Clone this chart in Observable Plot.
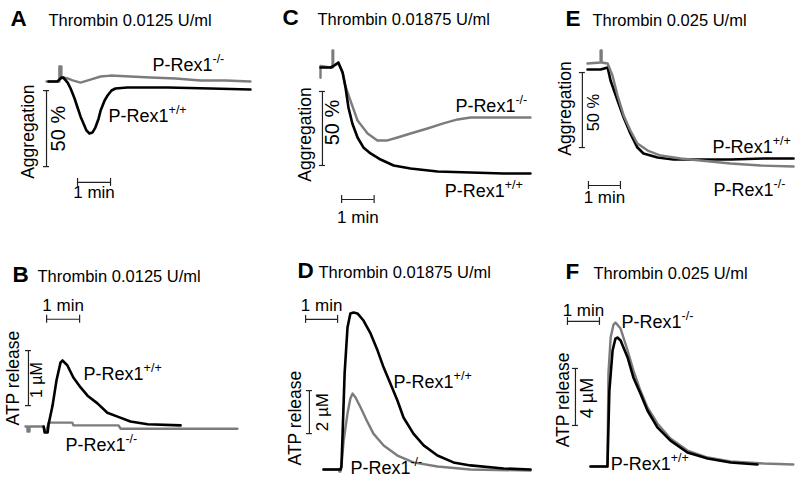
<!DOCTYPE html>
<html><head><meta charset="utf-8">
<script src="https://cdn.jsdelivr.net/npm/d3@7"></script>
<script src="https://cdn.jsdelivr.net/npm/@observablehq/plot@0.6"></script>
<style>
body{margin:0;background:#fff}
#fig{position:relative;width:800px;height:486px;overflow:hidden;background:#fff}
#fig svg{position:absolute}
</style></head><body><div id="fig"></div>
<script>
// ---- data: [time (min), value] ; aggregation in % (downward), ATP in µM ----
const genotypes = ["+/+", "-/-"];
const A_wt = [[0,0],[0.27,0],[0.39,-2.6],[0.45,-2.6],[0.58,0.7],[0.67,4.6],[0.79,11.2],[0.88,17.1],[0.97,23],[1.06,27.6],[1.15,32.2],[1.24,34.2],[1.33,33.6],[1.42,30.3],[1.52,24.3],[1.58,19.1],[1.70,12.5],[1.79,9.2],[1.91,5.9],[2.03,4.6],[2.39,3.9],[3.61,3.9],[4.91,4.6],[6.12,5.3]];
const A_ko = [[-0.06,0],[0.27,0],[0.33,0],[0.33,-9.9],[0.39,-9.9],[0.39,-2],[0.45,-2.6],[0.58,-2],[0.73,-0.7],[0.97,0.7],[1.27,-1.3],[1.58,-3.3],[1.88,-3.9],[2.48,-3.3],[3.09,-2.6],[3.85,-2],[4.61,-0.7],[5.36,-0.7],[6.12,0]];
const C_wt = [[0,0],[0.31,0],[0.40,-1],[0.55,-3.4],[0.68,3.4],[0.77,13.5],[0.86,27],[0.98,37.8],[1.14,47.3],[1.32,54],[1.54,58.1],[1.85,62.2],[2.25,66.2],[2.77,68.2],[3.6,70.3],[4.62,70.9],[5.63,71.6],[6.46,71.6]];
const C_ko = [[0,7],[0,-1],[0.31,0],[0.37,0],[0.37,-11.5],[0.39,-11.5],[0.39,-1],[0.55,-2.7],[0.68,3.4],[0.77,12.8],[0.92,22.3],[1.14,35.8],[1.45,44.6],[1.75,49.3],[2.06,49.3],[2.37,47.3],[2.77,44.6],[3.29,41.2],[3.78,37.8],[4.22,35.1],[4.62,33.8],[5.14,33.8],[6.46,33.8]];
const E_wt = [[0,0.7],[0.41,0.7],[0.63,-0.7],[0.72,8],[0.94,21.3],[1.13,32.7],[1.34,43.3],[1.56,52.7],[1.75,56.7],[2.19,59.3],[2.69,60.7],[3.44,60.7],[4.47,60.7],[5.5,60],[6.44,60]];
const E_ko = [[0,-3.3],[0.41,-4],[0.41,-12],[0.44,-12],[0.44,-4],[0.63,-3.3],[0.78,4.7],[0.94,18],[1.13,31.3],[1.34,41.3],[1.56,50],[1.88,54.7],[2.28,58],[2.91,60],[3.53,61.3],[4.47,63.3],[5.41,64.7],[6.44,65.3]];
const B_wt = [[0.55,0],[0.58,-0.11],[0.67,-0.11],[0.70,0.04],[0.82,0.38],[0.94,0.84],[1.06,1.16],[1.12,1.2],[1.27,1.11],[1.45,0.89],[1.67,0.71],[1.88,0.56],[2.18,0.42],[2.48,0.25],[2.79,0.18],[3.18,0.09],[3.70,0.04],[4.70,0.02]];
const B_ko = [[0,0],[0.06,0],[0.06,-0.09],[0.12,-0.09],[0.12,0],[0.55,0],[0.58,-0.07],[0.64,-0.07],[0.70,0.07],[1.42,0.07],[1.45,0.02],[2.82,0.02],[2.88,-0.04],[6.42,-0.04]];
const D_wt = [[0,0],[0.53,0],[0.56,0.14],[0.59,1.35],[0.66,4.47],[0.75,6.6],[0.84,7.26],[0.94,7.3],[1.06,7.26],[1.25,6.93],[1.47,6.33],[1.69,5.53],[1.88,4.74],[2.09,4.0],[2.31,3.21],[2.5,2.42],[2.81,1.67],[3.13,1.12],[3.56,0.65],[4.06,0.33],[4.59,0.19],[5.63,0.05],[6.47,0]];
const D_ko = [[0,0],[0.47,0],[0.50,-0.1],[0.53,-0.1],[0.56,0.14],[0.63,1.35],[0.75,2.6],[0.84,3.3],[0.91,3.53],[1.0,3.35],[1.16,2.88],[1.38,2.19],[1.56,1.67],[1.88,1.12],[2.31,0.65],[2.81,0.33],[3.56,0.14],[4.59,0],[6.47,-0.05]];
const F_wt = [[0,0],[0.53,0],[0.59,5.33],[0.69,8.14],[0.78,8.98],[0.84,9.05],[0.94,8.84],[1.16,7.65],[1.34,6.25],[1.56,5.12],[1.78,3.93],[2.09,2.74],[2.5,1.82],[3.03,0.98],[3.66,0.56],[4.38,0.28],[5.22,0.14]];
const F_ko = [[0,0],[0.53,0],[0.56,6.53],[0.63,9.05],[0.72,9.96],[0.78,10.1],[0.94,9.68],[1.16,8.14],[1.34,6.74],[1.56,5.33],[1.78,4.14],[2.09,3.02],[2.5,1.96],[3.03,1.12],[3.66,0.63],[4.38,0.35],[5.41,0.21],[6.34,0.14]];
// scale bars: vertical [t, v1, v2], horizontal [t1, t2, v]
const barsV = {A:[-0.06,6,56], C:[0.06,16.2,66.2], E:[-0.16,2.7,52.7], B:[0.09,0.38,1.38], D:[-0.44,1.67,3.67], F:[-0.47,2.88,6.88]};
const barsH = {A:[0.88,1.88,66.4], C:[0.65,1.65,89.2], E:[0.03,1.03,78], B:[0.64,1.64,1.95], D:[-0.56,0.44,6.98], F:[-0.72,0.28,10.18]};
const barText = {A:"50 %", C:"50 %", E:"50 %", B:"1 µM", D:"2 µM", F:"4 µM"};
// genotype label anchors [t, value] for +/+ and -/-
const labWt = {A:[1.82,26.8], C:[3.82,87.8], E:[3.91,56], B:[1.76,0.85], D:[2.19,3.81], F:[0.63,-0.28]};
const labKo = {A:[3.15,-7.2], C:[4.15,30.4], E:[3.94,84.7], B:[1.21,-0.45], D:[0.84,-0.19], F:[0.97,9.75]};
const titles = {A:"Thrombin 0.0125 U/ml", C:"Thrombin 0.01875 U/ml", E:"Thrombin 0.025 U/ml", B:"Thrombin 0.0125 U/ml", D:"Thrombin 0.01875 U/ml", F:"Thrombin 0.025 U/ml"};

// ---- layout (pixels) ----
const FONT = "'Liberation Sans', Arial, Helvetica, sans-serif";
const layout = {
  A:{left:0,top:0,w:270,h:240,x0:48,ppm:33,y0:81,ppu:76/50,dir:1,ylab:"Aggregation",
     letter:[10,25],title:[48,25],vl:[-18,3],sl:[12,0],sfs:20,mdy:16,wtFirst:false},
  C:{left:270,top:0,w:265,h:240,x0:320,ppm:32.5,y0:67,ppu:74/50,dir:1,ylab:"Aggregation",
     letter:[12,24],title:[47,24],vl:[-17,6],sl:[10,-6],sfs:20,mdy:23,wtFirst:false},
  E:{left:535,top:0,w:265,h:240,x0:587,ppm:32,y0:68,ppu:75/50,dir:1,ylab:"Aggregation",
     letter:[30,25],title:[57,25],vl:[-17,-1.5],sl:[11,2.5],sfs:16.5,mdy:17,wtFirst:true},
  B:{left:0,top:240,w:270,h:246,x0:25,ppm:33,y0:426,ppu:55,dir:-1,ylab:"ATP release",
     letter:[12,41],title:[37,41],vl:[-15,0],sl:[8,2],sfs:16,mdy:-8,wtFirst:false},
  D:{left:270,top:240,w:265,h:246,x0:323,ppm:32,y0:469,ppu:21.5,dir:-1,ylab:"ATP release",
     letter:[27,37],title:[48,37],vl:[-14,6],sl:[13,0],sfs:17,mdy:-8,wtFirst:false},
  F:{left:535,top:240,w:265,h:246,x0:590,ppm:32,y0:466,ppu:14.25,dir:-1,ylab:"ATP release",
     letter:[30,38],title:[58,38],vl:[-12,3],sl:[12,1],sfs:18,mdy:-5,wtFirst:false}
};
const traces = {A:[A_wt,A_ko], C:[C_wt,C_ko], E:[E_wt,E_ko], B:[B_wt,B_ko], D:[D_wt,D_ko], F:[F_wt,F_ko]};
const GRAY = "#7c7c7c", BLACK = "#000";

function makePanel(key){
  const L = layout[key];
  const [wt, ko] = traces[key];
  const rows = (arr) => arr.map(([t,v]) => ({t, v}));
  const [vt, v1, v2] = barsV[key];
  const [h1, h2, hv] = barsH[key];
  const capX = 3 / L.ppm, capY = 4 / L.ppu;
  const vm = (v1 + v2) / 2;
  const lineWt = Plot.line(rows(wt), {x:"t", y:"v", stroke:BLACK, strokeWidth:2.6, strokeLinejoin:"round"});
  const lineKo = Plot.line(rows(ko), {x:"t", y:"v", stroke:GRAY, strokeWidth:2.4, strokeLinejoin:"round"});
  const labs = [
    {t:labWt[key][0], v:labWt[key][1], s:"P-Rex1^" + genotypes[0]},
    {t:labKo[key][0], v:labKo[key][1], s:"P-Rex1^" + genotypes[1]}
  ];
  const svg = Plot.plot({
    width:L.w, height:L.h, margin:0,
    x:{domain:[0,1], range:[L.x0 - L.left, L.x0 - L.left + L.ppm], axis:null},
    y:{domain:[0,1], range:[L.y0 - L.top, L.y0 - L.top + L.dir * L.ppu], axis:null},
    style:{background:"transparent", overflow:"visible", fontFamily:FONT, color:"#000"},
    marks:[
      Plot.ruleX([{t:vt}], {x:"t", y1:v1, y2:v2, stroke:"#222", strokeWidth:1.2}),
      Plot.ruleY([v1, v2], {y:d=>d, x1:vt-capX, x2:vt+capX, stroke:"#222", strokeWidth:1.2}),
      Plot.ruleY([hv], {y:d=>d, x1:h1, x2:h2, stroke:"#222", strokeWidth:1.2}),
      Plot.ruleX([h1, h2], {x:d=>d, y1:hv-capY, y2:hv+capY, stroke:"#222", strokeWidth:1.2}),
      Plot.text(["1 min"], {x:(h1+h2)/2, y:hv, text:d=>d, dy:L.mdy, lineAnchor:"bottom", fontSize:17, fill:"#000"}),
      Plot.text([L.ylab], {x:vt, y:vm, text:d=>d, rotate:-90, dx:L.vl[0], dy:L.vl[1], fontSize:17.5, fill:"#000"}),
      Plot.text([barText[key]], {x:vt, y:vm, text:d=>d, rotate:-90, dx:L.sl[0], dy:L.sl[1], fontSize:L.sfs, fill:"#000"}),
      ...(L.wtFirst ? [lineWt, lineKo] : [lineKo, lineWt]),
      Plot.text(labs, {x:"t", y:"v", text:"s", textAnchor:"start", lineAnchor:"bottom", fontSize:18, fill:"#000"}),
      Plot.text([key], {frameAnchor:"top-left", text:d=>d, dx:L.letter[0], dy:L.letter[1], textAnchor:"start", lineAnchor:"bottom", fontSize:22.5, fontWeight:"bold", fill:"#000"}),
      Plot.text([titles[key]], {frameAnchor:"top-left", text:d=>d, dx:L.title[0], dy:L.title[1], textAnchor:"start", lineAnchor:"bottom", fontSize:16.5, fill:"#000"})
    ]
  });
  svg.style.left = L.left + "px";
  svg.style.top = L.top + "px";
  d3.select(svg).selectAll("text").each(function(){
    const s = this.textContent;
    if (s.includes("^")) {
      const [base, sup] = s.split("^");
      this.textContent = "";
      const sel = d3.select(this);
      sel.append("tspan").text(base);
      sel.append("tspan").attr("dy", "-8").attr("font-size", "12.5").text(sup);
    }
  });
  return svg;
}
const fig = document.getElementById("fig");
for (const k of ["A","C","E","B","D","F"]) fig.appendChild(makePanel(k));
</script>
</body></html>
